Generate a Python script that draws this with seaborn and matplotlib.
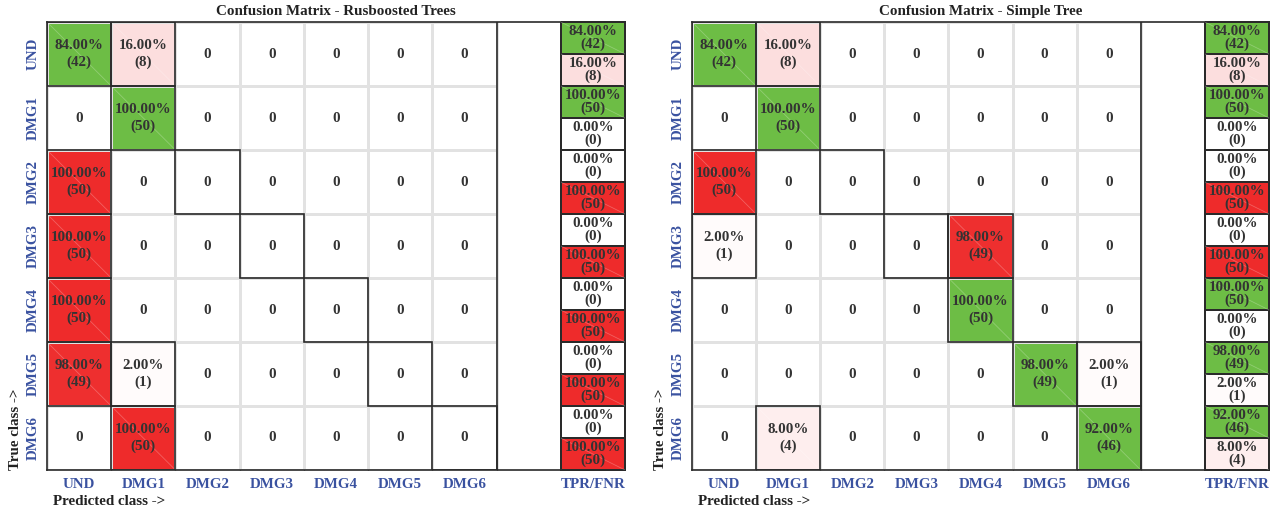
import numpy as np
import matplotlib
matplotlib.use("Agg")
import matplotlib.pyplot as plt
from matplotlib.colors import LinearSegmentedColormap, ListedColormap
from matplotlib.patches import Rectangle
import seaborn as sns

# ---- data -------------------------------------------------------------
classes = ["UND", "DMG1", "DMG2", "DMG3", "DMG4", "DMG5", "DMG6"]
summary_label = "TPR/FNR"

# rows = true class, columns = predicted class
rusboost_counts = [
    [42, 8, 0, 0, 0, 0, 0],
    [0, 50, 0, 0, 0, 0, 0],
    [50, 0, 0, 0, 0, 0, 0],
    [50, 0, 0, 0, 0, 0, 0],
    [50, 0, 0, 0, 0, 0, 0],
    [49, 1, 0, 0, 0, 0, 0],
    [0, 50, 0, 0, 0, 0, 0],
]
simple_tree_counts = [
    [42, 8, 0, 0, 0, 0, 0],
    [0, 50, 0, 0, 0, 0, 0],
    [50, 0, 0, 0, 0, 0, 0],
    [1, 0, 0, 0, 49, 0, 0],
    [0, 0, 0, 0, 50, 0, 0],
    [0, 0, 0, 0, 0, 49, 1],
    [0, 4, 0, 0, 0, 0, 46],
]
titles = ["Confusion Matrix - Rusboosted Trees", "Confusion Matrix - Simple Tree"]

# ---- style ------------------------------------------------------------
GREEN = "#6dbd45"
RED = "#ee2b2b"
BLUE = "#3a52a0"
INK = "#333333"
EDGE = "#2a2a2a"
GRID = "#e2e2e2"
FS = 10.8

sns.set_theme(style="white")
plt.rcParams["font.family"] = ["Liberation Serif", "DejaVu Serif"]
plt.rcParams["font.weight"] = "bold"

reds = LinearSegmentedColormap.from_list("reds", ["#ffffff", RED])
greens = ListedColormap([GREEN])


def cell_text(count, total):
    if count == 0:
        return "0"
    return f"{100 * count / total:.2f}%\n({count})"


def draw_panel(ax, counts, title):
    cm = np.array(counts)
    n = len(classes)
    totals = cm.sum(axis=1)
    frac = cm / totals[:, None]
    diag = np.eye(n, dtype=bool)

    # off-diagonal cells shaded red by row share, diagonal hits in green
    red_vals = np.where(diag, 0.0, frac)
    annot = np.array([[cell_text(cm[i, j], totals[i]) for j in range(n)]
                      for i in range(n)])
    sns.heatmap(red_vals, ax=ax, cmap=reds, vmin=0, vmax=1, cbar=False,
                linewidths=0.8, linecolor=GRID, annot=annot, fmt="",
                annot_kws=dict(fontsize=FS, fontweight="bold", color=INK,
                               linespacing=1.25),
                xticklabels=False, yticklabels=False)
    sns.heatmap(np.ones((n, n)), mask=~(diag & (cm > 0)), ax=ax, cmap=greens,
                cbar=False, linewidths=0.8, linecolor=GRID,
                xticklabels=False, yticklabels=False)

    colored = (cm > 0)
    for i in range(n):
        for j in range(n):
            if colored[i, j]:
                ax.plot([j, j + 1], [i, i + 1], color="white", alpha=0.25,
                        lw=0.6, zorder=2)
            if diag[i, j] or colored[i, j]:
                ax.add_patch(Rectangle((j, i), 1, 1, fill=False, ec=EDGE,
                                       lw=1.2, zorder=4))

    ax.set_xlim(0, n + 2)
    ax.set_ylim(n, 0)
    for s in ax.spines.values():
        s.set_visible(True)
        s.set_color(EDGE)
        s.set_linewidth(1.2)
    ax.axvline(n, color=EDGE, lw=1.2, zorder=4)

    ax.set_xticks(list(np.arange(n) + 0.5) + [n + 1.5])
    ax.set_xticklabels(classes + [summary_label], color=BLUE,
                       fontweight="bold", fontsize=FS)
    ax.set_yticks(np.arange(n) + 0.5)
    ax.set_yticklabels(classes, rotation=90, va="center", color=BLUE,
                       fontweight="bold", fontsize=FS)
    ax.tick_params(axis="both", which="major", length=0)
    ax.tick_params(axis="x", which="major", pad=6)
    ax.tick_params(axis="y", which="major", pad=5)
    ax.set_xticks(np.arange(1, n + 1), minor=True)
    ax.tick_params(axis="x", which="minor", direction="in", length=4,
                   width=1, color=EDGE, top=True, bottom=True)

    ax.set_title(title, fontsize=FS, fontweight="bold", color="#222222",
                 pad=5)
    ax.text(-0.055, 0, "True class ->", transform=ax.transAxes, rotation=90,
            ha="center", va="bottom", fontsize=FS, fontweight="bold",
            color="#222222")
    ax.text(0.01, -0.071, "Predicted class ->", transform=ax.transAxes,
            ha="left", va="center", fontsize=FS, fontweight="bold",
            color="#222222")

    # per-class true positive / false negative rates
    tpr = cm.diagonal() / totals
    fnr = 1 - tpr
    hits = cm.diagonal()
    misses = totals - hits
    col_red = np.zeros((2 * n, 1))
    col_red[1::2, 0] = fnr
    col_annot = np.empty((2 * n, 1), dtype=object)
    for i in range(n):
        col_annot[2 * i, 0] = f"{100 * tpr[i]:.2f}%\n({hits[i]})"
        col_annot[2 * i + 1, 0] = f"{100 * fnr[i]:.2f}%\n({misses[i]})"
    green_col = np.zeros((2 * n, 1), dtype=bool)
    green_col[0::2, 0] = tpr > 0

    iax = ax.inset_axes([(n + 1) / (n + 2), 0, 1 / (n + 2), 1])
    sns.heatmap(col_red, ax=iax, cmap=reds, vmin=0, vmax=1, cbar=False,
                linewidths=1.2, linecolor=EDGE, annot=col_annot.astype(str),
                fmt="", annot_kws=dict(fontsize=FS, fontweight="bold",
                                       color=INK, linespacing=0.95),
                xticklabels=False, yticklabels=False)
    sns.heatmap(np.ones((2 * n, 1)), mask=~green_col, ax=iax, cmap=greens,
                cbar=False, linewidths=1.2, linecolor=EDGE,
                xticklabels=False, yticklabels=False)
    for k in range(2 * n):
        shade = fnr[k // 2] if k % 2 else (1.0 if tpr[k // 2] > 0 else 0.0)
        if shade > 0:
            iax.plot([0, 1], [k, k + 1], color="white", alpha=0.25, lw=0.6,
                     zorder=2)
    for coll in iax.collections:
        coll.set_clip_on(False)
    iax.set_xticks([])
    iax.set_yticks([])


fig = plt.figure(figsize=(12.85, 5.13), dpi=100)
ax_left = fig.add_axes([47 / 1285, 43 / 513, 578 / 1285, 448 / 513])
ax_right = fig.add_axes([692 / 1285, 43 / 513, 577 / 1285, 448 / 513])

draw_panel(ax_left, rusboost_counts, titles[0])
draw_panel(ax_right, simple_tree_counts, titles[1])

fig.savefig("out.png", dpi=100, facecolor="white")
